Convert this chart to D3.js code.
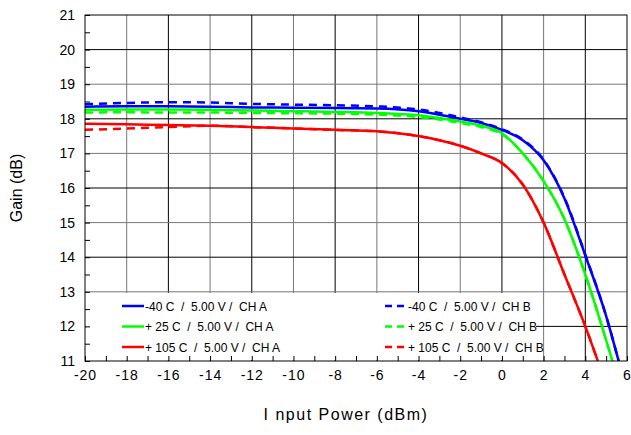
<!DOCTYPE html>
<html><head><meta charset="utf-8">
<script src="https://cdn.jsdelivr.net/npm/d3@7"></script>
<style>body{margin:0;background:#fff}text{font-family:"Liberation Sans",Arial,sans-serif;white-space:pre}</style>
</head><body><svg id="c" width="631" height="435"></svg>
<script>
const xs = [-20,-18,-16,-14,-12,-10,-8,-6,-4,-3,-2,-1,0,1,2,3,4,5];
const blueA = [18.35,18.36,18.36,18.35,18.33,18.32,18.31,18.3,18.22,18.12,18.0,17.88,17.68,17.38,16.8,15.7,14.05,12.3];
const blueB = [18.42,18.46,18.48,18.47,18.43,18.41,18.39,18.36,18.27,18.17,18.04,17.9,17.7,17.4,16.82,15.72,14.07,12.3];
const greenA = [18.26,18.27,18.27,18.26,18.24,18.22,18.2,18.17,18.1,18.02,17.92,17.8,17.58,17.0,16.2,15.1,13.5,11.6];
const greenB = [18.18,18.19,18.18,18.18,18.17,18.16,18.15,18.12,18.05,17.98,17.88,17.76,17.55,17.0,16.2,15.1,13.5,11.6];
const redA = [17.86,17.84,17.82,17.8,17.76,17.72,17.68,17.64,17.5,17.38,17.22,17.0,16.72,16.1,15.0,13.5,12.0,null];
const redB = [17.68,17.72,17.76,17.8,17.76,17.72,17.68,17.64,17.5,17.38,17.22,17.0,16.72,16.1,15.0,13.5,12.0,null];
// x where curves cross 11 dB
const ends = {blue:5.6, green:5.3, red:4.6};
const series = [
  {name:"-40 C  /  5.00 V /  CH A", v:blueA, c:"#0000ff", dash:null, end:ends.blue},
  {name:"+ 25 C  /  5.00 V /  CH A", v:greenA, c:"#00ff00", dash:null, end:ends.green},
  {name:"+ 105 C  /  5.00 V /  CH A", v:redA, c:"#ff0000", dash:null, end:ends.red},
  {name:"-40 C  /  5.00 V /  CH B", v:blueB, c:"#0000ff", dash:"8,6", end:ends.blue},
  {name:"+ 25 C  /  5.00 V /  CH B", v:greenB, c:"#00ff00", dash:"8,6", end:ends.green},
  {name:"+ 105 C  /  5.00 V /  CH B", v:redB, c:"#ff0000", dash:"8,6", end:ends.red}
];
const xTicks = d3.range(-20, 7, 2);
const yTicks = d3.range(11, 22, 1);

const svg = d3.select("#c");
const L=85, R=627, T=15, B=361;
const x = d3.scaleLinear().domain([-20,6]).range([L,R]);
const y = d3.scaleLinear().domain([11,21]).range([B,T]);

// grid
svg.append("g").selectAll("line").data(xTicks.slice(1,-1)).join("line")
  .attr("x1",d=>x(d)).attr("x2",d=>x(d)).attr("y1",T).attr("y2",B)
  .attr("stroke",(d,i)=>i%2?"#000":"#777").attr("stroke-width",1);
svg.append("g").selectAll("line").data(yTicks.slice(1,-1)).join("line")
  .attr("x1",L).attr("x2",R).attr("y1",d=>y(d)).attr("y2",d=>y(d))
  .attr("stroke",(d,i)=>i%2?"#777":"#000").attr("stroke-width",1);

// curves
const line = d3.line().x(d=>x(d[0])).y(d=>y(d[1])).curve(d3.curveMonotoneX);
svg.append("clipPath").attr("id","pc").append("rect").attr("x",L).attr("y",T).attr("width",R-L).attr("height",B-T);
series.forEach(s=>{
  const pts = xs.map((xv,i)=>[xv,s.v[i]]).filter(d=>d[1]!=null);
  pts.push([s.end,11]);
  svg.append("path").attr("d",line(pts)).attr("fill","none")
    .attr("stroke",s.c).attr("stroke-width",2.5).attr("stroke-dasharray",s.dash)
    .attr("clip-path","url(#pc)");
});

// legend box
svg.append("rect").attr("x",L+1).attr("y",293).attr("width",450).attr("height",B-293-1).attr("fill","#fff");
series.forEach((s,i)=>{
  const col = Math.floor(i/3), row = i%3;
  const lx = 122 + col*263, ly = 306 + row*20.5;
  svg.append("line").attr("x1",lx).attr("x2",lx+22).attr("y1",ly).attr("y2",ly)
    .attr("stroke",s.c).attr("stroke-width",2.5).attr("stroke-dasharray",s.dash?"7,5":null);
  svg.append("text").attr("x",lx+23).attr("y",ly+4.5).attr("font-size",12).text(s.name);
});

// axes
svg.append("rect").attr("x",L).attr("y",T).attr("width",R-L).attr("height",B-T).attr("fill","none").attr("stroke","#000");
svg.append("g").attr("transform",`translate(0,${B})`)
  .call(d3.axisBottom(x).tickValues(d3.range(-20,7,1)).tickSize(-5).tickFormat(d=>d%2===0?d:"").tickPadding(9))
  .call(g=>{g.select(".domain").remove();g.selectAll("text").attr("font-size",14).attr("letter-spacing","1px");});
svg.append("g").attr("transform",`translate(${L},0)`)
  .call(d3.axisLeft(y).tickValues(d3.range(11,21.01,0.5)).tickSize(-5).tickFormat(d=>Number.isInteger(d)?d:"").tickPadding(10))
  .call(g=>{g.select(".domain").remove();g.selectAll("text").attr("font-size",14);});

svg.append("text").attr("x",(L+R)/2-10).attr("y",420).attr("text-anchor","middle").attr("font-size",16)
  .attr("letter-spacing","1.5px").text("I nput Power (dBm)");
svg.append("text").attr("transform",`translate(22,${(T+B)/2}) rotate(-90)`).attr("text-anchor","middle")
  .attr("font-size",16).text("Gain (dB)");
</script></body></html>
